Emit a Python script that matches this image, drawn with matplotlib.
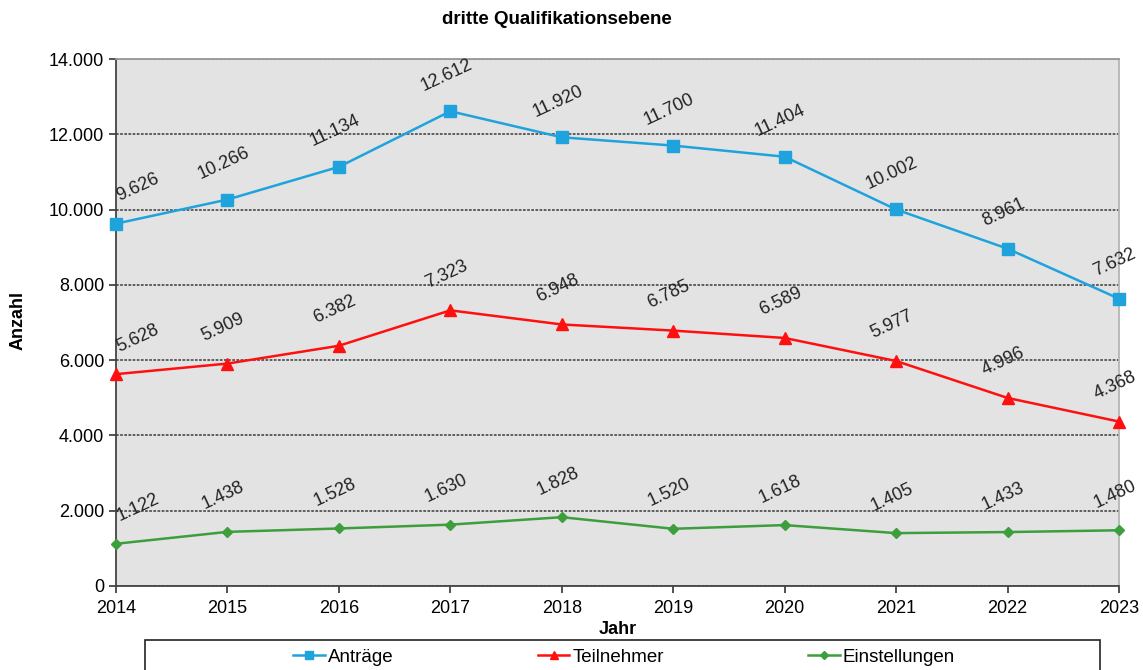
import matplotlib
matplotlib.use("Agg")
import matplotlib.pyplot as plt
from matplotlib.patches import Rectangle
from matplotlib.ticker import FuncFormatter, MultipleLocator

plt.rcParams["font.family"] = ["Liberation Sans", "DejaVu Sans"]

years = [2014, 2015, 2016, 2017, 2018, 2019, 2020, 2021, 2022, 2023]
antraege = [9626, 10266, 11134, 12612, 11920, 11700, 11404, 10002, 8961, 7632]
teilnehmer = [5628, 5909, 6382, 7323, 6948, 6785, 6589, 5977, 4996, 4368]
einstellungen = [1122, 1438, 1528, 1630, 1828, 1520, 1618, 1405, 1433, 1480]

title = "dritte Qualifikationsebene"
series_names = ["Anträge", "Teilnehmer", "Einstellungen"]


def de_num(v, pos=None):
    return f"{int(v):,}".replace(",", ".")


fig = plt.figure(figsize=(11.43, 6.70), dpi=100)
ax = fig.add_axes([116 / 1143, 1 - 586 / 670, (1119 - 116) / 1143, (586 - 59) / 670])
ax.set_facecolor("#e3e3e3")

styles = [
    dict(color="#1ea3dc", marker="s", markersize=8),
    dict(color="#ff1010", marker="^", markersize=8.5),
    dict(color="#3c9e3c", marker="D", markersize=5.5),
]
handles = []
for vals, name, st in zip([antraege, teilnehmer, einstellungen], series_names, styles):
    h, = ax.plot(years, vals, linewidth=1.8, label=name, clip_on=False, zorder=4, **st)
    handles.append(h)
    for i, (x, y) in enumerate(zip(years, vals)):
        dx = 16 if i == 0 else -3
        ax.annotate(de_num(y), (x, y), xytext=(dx, 26), textcoords="offset points",
                    ha="center", va="center", rotation=25, fontsize=13,
                    color="#222222", zorder=5, annotation_clip=False)

ax.set_xlim(2014, 2023)
ax.set_ylim(0, 14000)
ax.xaxis.set_major_locator(MultipleLocator(1))
ax.yaxis.set_major_locator(MultipleLocator(2000))
ax.yaxis.set_major_formatter(FuncFormatter(de_num))
ax.tick_params(axis="both", labelsize=13, direction="out", length=5, width=1.2,
               colors="#333333", labelcolor="black")
ax.tick_params(axis="x", pad=5)

ax.grid(axis="y", color="#555555", linestyle=(0, (1.5, 0.8)), linewidth=1.3, zorder=1)
ax.set_axisbelow(True)
for side in ["left", "bottom"]:
    ax.spines[side].set_color("#444444")
    ax.spines[side].set_linewidth(1.3)
ax.spines["top"].set_color("#999999")
ax.spines["top"].set_linewidth(1.3)
ax.spines["right"].set_color("#b5b5b5")
ax.spines["right"].set_linewidth(1.3)

fig.text(557 / 1143, 1 - 19 / 670, title, ha="center", va="center",
         fontsize=13.5, fontweight="bold")
fig.text(18 / 1143, 1 - 320 / 670, "Anzahl", ha="center", va="center",
         rotation=90, fontsize=13, fontweight="bold")
fig.text(618 / 1143, 1 - 629 / 670, "Jahr", ha="center", va="center",
         fontsize=13, fontweight="bold")

fig.patches.append(Rectangle((145 / 1143, -0.05), (1100 - 145) / 1143, 0.05 + 30 / 670,
                             transform=fig.transFigure, facecolor="white",
                             edgecolor="#222222", linewidth=1.2))
fig.legend(handles=handles, loc="center", bbox_to_anchor=(624 / 1143, 1 - 657 / 670),
           ncol=3, frameon=False, fontsize=13.5, handlelength=1.7, handletextpad=0.15,
           columnspacing=7.7, borderpad=0.0, markerscale=0.7)

fig.savefig("out.png", dpi=100)
